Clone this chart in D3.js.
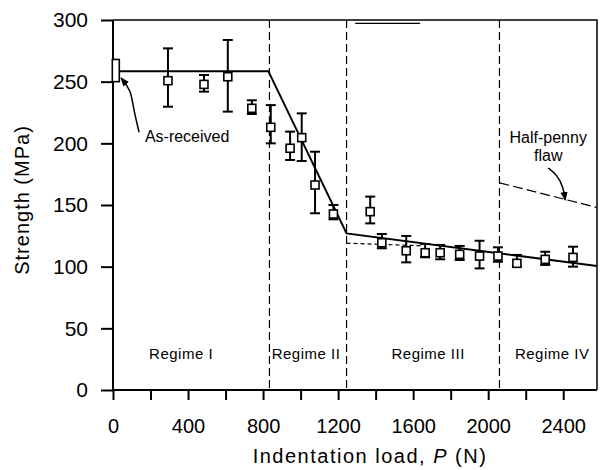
<!DOCTYPE html>
<html>
<head>
<meta charset="utf-8">
<script src="https://cdn.jsdelivr.net/npm/d3@7"></script>
<style>
  body { margin: 0; background: #fff; }
  svg { font-family: "Liberation Sans", Arial, sans-serif; }
</style>
</head>
<body>
<div id="chart"></div>
<script>
// measured points (indentation load N, strength MPa, error bar ends)
const loads     = [293, 485, 612, 740, 841, 944, 1006, 1077, 1175, 1371, 1433, 1563, 1664, 1744, 1848, 1954, 2052, 2153, 2304, 2452];
const strengths = [250.8, 247.8, 254, 228.4, 213, 196, 204.6, 166.2, 142.7, 144.6, 119.4, 112.9, 111.3, 111.3, 110, 108.6, 108.6, 102.7, 105.9, 107.5];
const errHigh   = [277, 255.4, 283.8, 234.9, 231, 209.5, 224.3, 193.2, 150, 156.8, 126.5, 124.9, 118.4, 117.6, 116.8, 121, 115.7, 109.5, 112.1, 116.2];
const errLow    = [229.7, 241.9, 225.7, 223.8, 200, 186.5, 185.7, 143.3, 138.4, 135.1, 114.9, 103.5, 107.6, 106, 105.4, 98.6, 104, 100, 101.4, 100];

// as-received specimens (drawn as a tall box at zero load)
const asReceived = {load: 15, low: 250, high: 268};

// fitted model line
const fitLoads     = [0, 828, 1245, 2580];
const fitStrengths = [258.5, 258.5, 127, 100.5];

// regime III extrapolation (short dashes) and half-penny flaw prediction
const regime3Loads     = [1245, 1640];
const regime3Strengths = [119, 117];
const halfPennyLoads     = [2060, 2580];
const halfPennyStrengths = [168, 148];

// regime boundaries and labels
const regimeBounds = [834, 1245, 2060];
const regimeNames  = ["Regime I", "Regime II", "Regime III", "Regime IV"];
const regimeLabelLoads = [363, 1029, 1680, 2341];

// annotation arrows, in data units
const asReceivedArrow = [[139, 209], [107, 229.5], [96, 243], [43, 253]];
const halfPennyArrow  = [[2320, 180], [2368, 174.3], [2400, 164.6], [2411, 154]];

// small scan artefact on top frame
const topMarkLoads = [1291, 1637];
const topMarkStrength = 297.3;

const xTicks = d3.range(0, 2600, 200);
const yTicks = d3.range(0, 350, 50);

const width = 600;
const height = 470;

const svg = d3.select("#chart").append("svg")
    .attr("width", width)
    .attr("height", height);

const x = d3.scaleLinear().domain([0, 2580]).range([113, 597]);
const y = d3.scaleLinear().domain([0, 300]).range([390, 20]);

svg.append("defs").append("marker")
    .attr("id", "arrow")
    .attr("viewBox", "0 0 10 10")
    .attr("refX", 9).attr("refY", 5)
    .attr("markerWidth", 6).attr("markerHeight", 6)
    .attr("orient", "auto")
    .append("path")
    .attr("d", "M0,1 L10,5 L0,9 z")
    .attr("fill", "#000");

// frame (top and right)
svg.append("path")
    .attr("d", `M${x(0)},${y(300)} H${x(2580)} V${y(0)}`)
    .attr("fill", "none")
    .attr("stroke", "#000")
    .attr("stroke-width", 1.5);

svg.append("line")
    .attr("x1", x(topMarkLoads[0])).attr("x2", x(topMarkLoads[1]))
    .attr("y1", y(topMarkStrength)).attr("y2", y(topMarkStrength))
    .attr("stroke", "#000").attr("stroke-width", 1.2);

// axes
const xAxis = d3.axisBottom(x)
    .tickValues(xTicks)
    .tickSize(10)
    .tickPadding(19)
    .tickFormat(d => d % 400 === 0 ? d : "");

const yAxis = d3.axisLeft(y)
    .tickValues(yTicks)
    .tickSize(12)
    .tickPadding(13);

const gx = svg.append("g")
    .attr("transform", `translate(0, ${y(0)})`)
    .call(xAxis);
gx.select(".domain").attr("d", `M${x(0)},0H${x(2580)}`);

const gy = svg.append("g")
    .attr("transform", `translate(${x(0)}, 0)`)
    .call(yAxis);
gy.select(".domain").attr("d", `M0,${y(0)}V${y(300)}`);

[gx, gy].forEach(g => {
    g.selectAll("path, line").attr("stroke", "#000").attr("stroke-width", 2);
    g.selectAll("text").attr("fill", "#000")
        .style("font-family", "'Liberation Sans', Arial, sans-serif");
});
gx.selectAll("text").attr("font-size", 20);
gy.selectAll("text").attr("font-size", 21);

// axis titles
const xTitle = svg.append("text")
    .attr("x", 370)
    .attr("y", 463)
    .attr("text-anchor", "middle")
    .attr("font-size", 20)
    .attr("letter-spacing", 1.5);
xTitle.append("tspan").text("Indentation load, ");
xTitle.append("tspan").attr("font-style", "italic").text("P");
xTitle.append("tspan").text(" (N)");

svg.append("text")
    .attr("transform", "translate(29, 200) rotate(-90)")
    .attr("text-anchor", "middle")
    .attr("font-size", 20)
    .attr("letter-spacing", 1)
    .text("Strength (MPa)");

// regime boundaries
svg.selectAll(".bound")
    .data(regimeBounds)
    .enter()
    .append("line")
    .attr("class", "bound")
    .attr("x1", d => x(d)).attr("x2", d => x(d))
    .attr("y1", y(300)).attr("y2", y(0))
    .attr("stroke", "#000")
    .attr("stroke-width", 1.2)
    .attr("stroke-dasharray", "8,4");

svg.selectAll(".regime")
    .data(regimeNames)
    .enter()
    .append("text")
    .attr("class", "regime")
    .attr("x", (d, i) => x(regimeLabelLoads[i]))
    .attr("y", y(25))
    .attr("text-anchor", "middle")
    .attr("font-size", 15)
    .attr("letter-spacing", 0.5)
    .text(d => d);

const line = d3.line().x(d => x(d[0])).y(d => y(d[1]));

// fitted line
svg.append("path")
    .datum(fitLoads.map((d, i) => [d, fitStrengths[i]]))
    .attr("d", line)
    .attr("fill", "none")
    .attr("stroke", "#000")
    .attr("stroke-width", 2);

svg.append("path")
    .datum(regime3Loads.map((d, i) => [d, regime3Strengths[i]]))
    .attr("d", line)
    .attr("fill", "none")
    .attr("stroke", "#000")
    .attr("stroke-width", 1.2)
    .attr("stroke-dasharray", "4,3");

svg.append("path")
    .datum(halfPennyLoads.map((d, i) => [d, halfPennyStrengths[i]]))
    .attr("d", line)
    .attr("fill", "none")
    .attr("stroke", "#000")
    .attr("stroke-width", 1.2)
    .attr("stroke-dasharray", "10,4");

// error bars
const points = loads.map((d, i) => ({load: d, s: strengths[i], lo: errLow[i], hi: errHigh[i]}));
const capW = 10;
const bars = svg.selectAll(".err")
    .data(points)
    .enter()
    .append("g")
    .attr("class", "err")
    .attr("stroke", "#000")
    .attr("stroke-width", 2);
bars.append("line")
    .attr("x1", d => x(d.load)).attr("x2", d => x(d.load))
    .attr("y1", d => y(d.hi)).attr("y2", d => y(d.lo));
bars.append("line")
    .attr("x1", d => x(d.load) - capW / 2).attr("x2", d => x(d.load) + capW / 2)
    .attr("y1", d => y(d.hi)).attr("y2", d => y(d.hi));
bars.append("line")
    .attr("x1", d => x(d.load) - capW / 2).attr("x2", d => x(d.load) + capW / 2)
    .attr("y1", d => y(d.lo)).attr("y2", d => y(d.lo));

// square markers
const sq = 8;
svg.selectAll(".pt")
    .data(points)
    .enter()
    .append("rect")
    .attr("class", "pt")
    .attr("x", d => x(d.load) - sq / 2)
    .attr("y", d => y(d.s) - sq / 2)
    .attr("width", sq).attr("height", sq)
    .attr("fill", "#fff")
    .attr("stroke", "#000")
    .attr("stroke-width", 1.6);

// as-received box
svg.append("rect")
    .attr("x", x(asReceived.load) - 3.5)
    .attr("y", y(asReceived.high))
    .attr("width", 7)
    .attr("height", y(asReceived.low) - y(asReceived.high))
    .attr("fill", "#fff")
    .attr("stroke", "#000")
    .attr("stroke-width", 1.6);

// annotations
const curve = d3.line().x(d => x(d[0])).y(d => y(d[1])).curve(d3.curveBasis);

svg.append("path")
    .datum(asReceivedArrow)
    .attr("d", curve)
    .attr("fill", "none")
    .attr("stroke", "#000")
    .attr("stroke-width", 1.5)
    .attr("marker-end", "url(#arrow)");

svg.append("text")
    .attr("x", x(170))
    .attr("y", y(201))
    .attr("font-size", 16)
    .text("As-received");

svg.append("path")
    .datum(halfPennyArrow)
    .attr("d", curve)
    .attr("fill", "none")
    .attr("stroke", "#000")
    .attr("stroke-width", 1.5)
    .attr("marker-end", "url(#arrow)");

svg.append("text")
    .attr("x", x(2320))
    .attr("y", y(200))
    .attr("text-anchor", "middle")
    .attr("font-size", 16)
    .text("Half-penny");
svg.append("text")
    .attr("x", x(2320))
    .attr("y", y(186))
    .attr("text-anchor", "middle")
    .attr("font-size", 16)
    .text("flaw");
</script>
</body>
</html>
